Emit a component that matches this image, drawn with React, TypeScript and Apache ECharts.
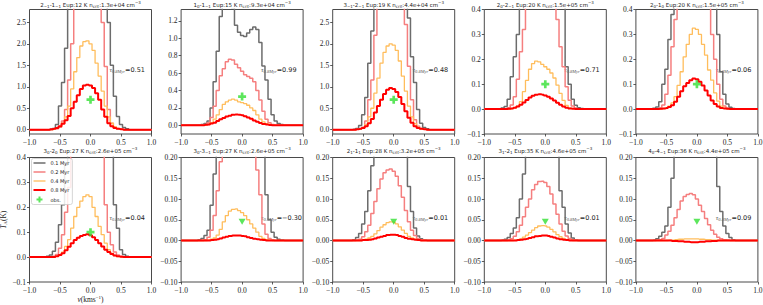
import React, { useEffect, useRef } from "react";
import * as echarts from "echarts";

// channel centres (km/s); outside this window all spectra are zero
const velocity = [-0.75, -0.7, -0.65, -0.6, -0.55, -0.5, -0.45, -0.4, -0.35, -0.3, -0.25, -0.2, -0.15, -0.1, -0.05, 0, 0.05, 0.1, 0.15, 0.2, 0.25, 0.3, 0.35, 0.4, 0.45, 0.5, 0.55, 0.6, 0.65, 0.7, 0.75];
const bandEdges = [-1.0, 1.0];
const ageNames = ["0.1 Myr", "0.2 Myr", "0.4 Myr", "0.8 Myr"];
const xTicks = [-1.0, -0.5, 0.0, 0.5, 1.0];

// Panel 1: 2_-1 - 1_-1
const p1_01 = [0, 0, 0.01, 0.03, 0.12, 0.55, 1.1, 1.9, 3.2, 3.8, 4.2, 4.4, 4.5, 4.5, 4.5, 4.4, 4.3, 4.2, 4.0, 3.7, 3.2, 2.5, 1.5, 0.78, 0.31, 0.12, 0.05, 0.02, 0, 0, 0];
const p1_02 = [0, 0, 0, 0.01, 0.02, 0.06, 0.2, 0.47, 1.16, 2.0, 3.0, 3.6, 3.9, 4.0, 4.0, 3.9, 3.7, 3.4, 3.0, 2.5, 1.47, 0.47, 0.15, 0.05, 0.02, 0.01, 0, 0, 0, 0, 0];
const p1_04 = [0, 0, 0, 0.01, 0.03, 0.07, 0.15, 0.3, 0.55, 0.95, 1.35, 1.68, 1.95, 2.05, 2.07, 2.0, 1.85, 1.55, 1.25, 0.9, 0.55, 0.3, 0.15, 0.07, 0.03, 0.01, 0, 0, 0, 0, 0];
const p1_08 = [0, 0, 0.01, 0.02, 0.04, 0.08, 0.14, 0.22, 0.32, 0.5, 0.65, 0.8, 0.95, 1.03, 1.05, 1.03, 0.97, 0.85, 0.7, 0.47, 0.3, 0.15, 0.08, 0.04, 0.02, 0.01, 0, 0, 0, 0, 0];
// Panel 2: 1_0 - 1_-1
const p2_01 = [0, 0, 0.01, 0.02, 0.05, 0.2, 0.5, 0.85, 1.25, 1.45, 1.5, 1.45, 1.35, 1.15, 1.07, 1.03, 1.02, 1.06, 1.1, 1.13, 1.1, 0.95, 0.68, 0.52, 0.3, 0.12, 0.05, 0.02, 0.01, 0, 0];
const p2_02 = [0, 0, 0, 0.01, 0.03, 0.09, 0.22, 0.4, 0.57, 0.65, 0.73, 0.76, 0.75, 0.7, 0.66, 0.62, 0.58, 0.56, 0.54, 0.5, 0.4, 0.29, 0.16, 0.07, 0.03, 0.01, 0, 0, 0, 0, 0];
const p2_04 = [0, 0, 0, 0.005, 0.01, 0.03, 0.07, 0.12, 0.18, 0.24, 0.27, 0.29, 0.3, 0.29, 0.27, 0.26, 0.25, 0.23, 0.2, 0.17, 0.12, 0.07, 0.04, 0.02, 0.01, 0, 0, 0, 0, 0, 0];
const p2_08 = [0, 0, 0, 0.005, 0.01, 0.02, 0.03, 0.05, 0.07, 0.085, 0.1, 0.11, 0.12, 0.125, 0.12, 0.115, 0.105, 0.09, 0.075, 0.055, 0.04, 0.025, 0.015, 0.008, 0.003, 0, 0, 0, 0, 0, 0];
// Panel 3: 3_-1 - 2_-1
const p3_01 = [0, 0, 0.01, 0.03, 0.1, 0.35, 0.75, 1.55, 2.3, 3.2, 4.0, 4.3, 4.4, 4.4, 4.4, 4.3, 4.2, 4.0, 3.8, 3.5, 2.6, 1.7, 1.1, 0.47, 0.15, 0.05, 0.02, 0, 0, 0, 0];
const p3_02 = [0, 0, 0, 0.01, 0.02, 0.06, 0.2, 0.7, 1.16, 2.2, 3.2, 3.6, 3.8, 3.9, 3.9, 3.8, 3.6, 3.4, 3.2, 2.45, 1.48, 0.7, 0.23, 0.08, 0.03, 0.01, 0, 0, 0, 0, 0];
const p3_04 = [0, 0, 0, 0.01, 0.02, 0.05, 0.12, 0.3, 0.5, 0.85, 1.2, 1.55, 1.8, 1.95, 2.0, 1.97, 1.85, 1.6, 1.25, 0.9, 0.55, 0.3, 0.14, 0.06, 0.02, 0.01, 0, 0, 0, 0, 0];
const p3_08 = [0, 0, 0, 0.01, 0.02, 0.04, 0.08, 0.15, 0.25, 0.4, 0.55, 0.7, 0.83, 0.93, 0.97, 0.95, 0.88, 0.76, 0.6, 0.43, 0.28, 0.16, 0.08, 0.04, 0.02, 0.01, 0, 0, 0, 0, 0];
// Panel 4: 2_0 - 2_-1
const p4_01 = [0.001, 0.004, 0.01, 0.04, 0.13, 0.21, 0.3, 0.45, 0.6, 0.7, 0.75, 0.8, 0.8, 0.8, 0.8, 0.8, 0.78, 0.75, 0.7, 0.6, 0.5, 0.45, 0.17, 0.1, 0.04, 0.015, 0.005, 0.002, 0, 0, 0];
const p4_02 = [0, 0, 0, 0.005, 0.016, 0.05, 0.12, 0.23, 0.32, 0.45, 0.55, 0.6, 0.62, 0.62, 0.62, 0.6, 0.58, 0.55, 0.45, 0.36, 0.25, 0.17, 0.09, 0.036, 0.012, 0.004, 0, 0, 0, 0, 0];
const p4_04 = [0, 0, 0, 0, 0.002, 0.005, 0.012, 0.03, 0.07, 0.115, 0.16, 0.183, 0.193, 0.19, 0.18, 0.17, 0.16, 0.145, 0.125, 0.096, 0.063, 0.035, 0.015, 0.005, 0.002, 0, 0, 0, 0, 0, 0];
const p4_08 = [0, 0, 0, 0.001, 0.002, 0.005, 0.01, 0.017, 0.027, 0.037, 0.047, 0.054, 0.058, 0.06, 0.058, 0.055, 0.05, 0.043, 0.035, 0.026, 0.017, 0.01, 0.005, 0.002, 0.001, 0, 0, 0, 0, 0, 0];
// Panel 5: 2_0 - 1_0
const p5_01 = [0, 0.003, 0.008, 0.03, 0.1, 0.16, 0.28, 0.38, 0.5, 0.6, 0.7, 0.75, 0.8, 0.8, 0.8, 0.8, 0.78, 0.75, 0.7, 0.6, 0.55, 0.5, 0.3, 0.15, 0.06, 0.02, 0.007, 0.002, 0, 0, 0];
const p5_02 = [0, 0, 0, 0.004, 0.016, 0.06, 0.136, 0.25, 0.36, 0.48, 0.55, 0.6, 0.62, 0.62, 0.62, 0.6, 0.58, 0.55, 0.5, 0.42, 0.3, 0.2, 0.1, 0.04, 0.012, 0.004, 0, 0, 0, 0, 0];
const p5_04 = [0, 0, 0, 0, 0.002, 0.005, 0.012, 0.025, 0.05, 0.095, 0.15, 0.21, 0.26, 0.3, 0.325, 0.32, 0.3, 0.26, 0.217, 0.157, 0.116, 0.065, 0.032, 0.012, 0.004, 0.001, 0, 0, 0, 0, 0];
const p5_08 = [0, 0, 0, 0.001, 0.002, 0.004, 0.008, 0.015, 0.03, 0.05, 0.072, 0.092, 0.105, 0.116, 0.123, 0.12, 0.11, 0.095, 0.075, 0.055, 0.035, 0.02, 0.01, 0.004, 0.002, 0.001, 0, 0, 0, 0, 0];
// Panel 6: 3_0 - 2_0
const p6_01 = [0, 0.003, 0.008, 0.023, 0.06, 0.13, 0.21, 0.37, 0.5, 0.6, 0.7, 0.75, 0.8, 0.8, 0.8, 0.8, 0.78, 0.75, 0.7, 0.6, 0.55, 0.5, 0.42, 0.21, 0.116, 0.03, 0.01, 0.003, 0, 0, 0];
const p6_02 = [0, 0, 0, 0.003, 0.01, 0.036, 0.09, 0.18, 0.28, 0.42, 0.5, 0.55, 0.6, 0.6, 0.6, 0.58, 0.55, 0.5, 0.47, 0.45, 0.21, 0.1, 0.05, 0.02, 0.008, 0.003, 0, 0, 0, 0, 0];
const p6_04 = [0, 0, 0, 0, 0.003, 0.008, 0.02, 0.043, 0.07, 0.116, 0.163, 0.2, 0.225, 0.243, 0.25, 0.243, 0.2, 0.163, 0.123, 0.09, 0.056, 0.03, 0.015, 0.006, 0.002, 0, 0, 0, 0, 0, 0];
const p6_08 = [0, 0, 0, 0, 0.003, 0.008, 0.015, 0.028, 0.042, 0.056, 0.069, 0.078, 0.085, 0.089, 0.092, 0.088, 0.08, 0.069, 0.056, 0.043, 0.03, 0.02, 0.012, 0.006, 0.003, 0.001, 0, 0, 0, 0, 0];
// Panel 7: 3_0 - 3_-1
const p7_01 = [0, 0.002, 0.005, 0.012, 0.025, 0.085, 0.16, 0.25, 0.3, 0.35, 0.38, 0.4, 0.4, 0.4, 0.4, 0.4, 0.4, 0.38, 0.35, 0.32, 0.3, 0.27, 0.25, 0.11, 0.05, 0.02, 0.008, 0.003, 0.001, 0, 0];
const p7_02 = [0, 0, 0, 0.002, 0.008, 0.025, 0.06, 0.12, 0.19, 0.25, 0.3, 0.32, 0.33, 0.33, 0.33, 0.32, 0.3, 0.28, 0.26, 0.24, 0.17, 0.11, 0.04, 0.015, 0.005, 0.002, 0, 0, 0, 0, 0];
const p7_04 = [0, 0, 0, 0, 0.001, 0.003, 0.006, 0.013, 0.027, 0.045, 0.06, 0.071, 0.075, 0.076, 0.072, 0.067, 0.06, 0.05, 0.04, 0.03, 0.02, 0.01, 0.005, 0.002, 0.001, 0, 0, 0, 0, 0, 0];
const p7_08 = [0, 0, 0, 0, 0, 0.001, 0.002, 0.003, 0.005, 0.007, 0.009, 0.011, 0.012, 0.012, 0.012, 0.011, 0.01, 0.008, 0.006, 0.004, 0.003, 0.002, 0.001, 0, 0, 0, 0, 0, 0, 0, 0];
// Panel 8: 2_1 - 1_1
const p8_01 = [0, 0, 0.002, 0.007, 0.017, 0.04, 0.07, 0.12, 0.18, 0.24, 0.3, 0.33, 0.35, 0.35, 0.35, 0.34, 0.32, 0.3, 0.27, 0.22, 0.13, 0.07, 0.03, 0.011, 0.004, 0.001, 0, 0, 0, 0, 0];
const p8_02 = [0, 0, 0, 0.001, 0.003, 0.009, 0.021, 0.037, 0.065, 0.094, 0.125, 0.148, 0.163, 0.17, 0.172, 0.167, 0.155, 0.132, 0.104, 0.072, 0.045, 0.025, 0.012, 0.005, 0.002, 0.001, 0, 0, 0, 0, 0];
const p8_04 = [0, 0, 0, 0, 0, 0.001, 0.003, 0.006, 0.01, 0.016, 0.024, 0.032, 0.038, 0.043, 0.045, 0.044, 0.04, 0.033, 0.025, 0.017, 0.01, 0.006, 0.003, 0.001, 0, 0, 0, 0, 0, 0, 0];
const p8_08 = [0, 0, 0, 0, 0, 0.001, 0.001, 0.002, 0.003, 0.005, 0.007, 0.009, 0.011, 0.013, 0.014, 0.014, 0.013, 0.011, 0.009, 0.006, 0.004, 0.003, 0.002, 0.001, 0, 0, 0, 0, 0, 0, 0];
// Panel 9: 3_1 - 2_1
const p9_01 = [0, 0.001, 0.003, 0.007, 0.017, 0.03, 0.055, 0.1, 0.16, 0.22, 0.27, 0.3, 0.32, 0.32, 0.32, 0.31, 0.3, 0.28, 0.25, 0.22, 0.12, 0.08, 0.04, 0.018, 0.006, 0.002, 0, 0, 0, 0, 0];
const p9_02 = [0, 0, 0, 0.001, 0.004, 0.01, 0.021, 0.037, 0.057, 0.08, 0.1, 0.122, 0.135, 0.142, 0.143, 0.14, 0.13, 0.112, 0.088, 0.063, 0.04, 0.022, 0.011, 0.005, 0.002, 0.001, 0, 0, 0, 0, 0];
const p9_04 = [0, 0, 0, 0, 0, 0.001, 0.002, 0.004, 0.008, 0.013, 0.019, 0.025, 0.031, 0.035, 0.036, 0.035, 0.032, 0.027, 0.021, 0.014, 0.009, 0.005, 0.002, 0.001, 0, 0, 0, 0, 0, 0, 0];
const p9_08 = [0, 0, 0, 0, 0, 0, 0.001, 0.002, 0.003, 0.004, 0.006, 0.008, 0.01, 0.011, 0.012, 0.012, 0.011, 0.009, 0.007, 0.005, 0.003, 0.002, 0.001, 0, 0, 0, 0, 0, 0, 0, 0];
// Panel 10: 4_0 - 4_-1
const p10_01 = [0, 0.001, 0.004, 0.01, 0.02, 0.035, 0.08, 0.15, 0.22, 0.27, 0.3, 0.32, 0.33, 0.33, 0.33, 0.32, 0.31, 0.3, 0.28, 0.26, 0.24, 0.22, 0.13, 0.07, 0.035, 0.017, 0.007, 0.002, 0, 0, 0];
const p10_02 = [0, 0, 0.001, 0.002, 0.005, 0.013, 0.022, 0.037, 0.055, 0.075, 0.095, 0.106, 0.111, 0.113, 0.11, 0.1, 0.085, 0.07, 0.053, 0.038, 0.025, 0.015, 0.008, 0.004, 0.002, 0.001, 0, 0, 0, 0, 0];
const p10_04 = [0, 0, 0, 0, 0, 0, 0.001, 0.001, 0.002, 0.003, 0.003, 0.004, 0.004, 0.004, 0.004, 0.004, 0.003, 0.003, 0.002, 0.002, 0.001, 0.001, 0, 0, 0, 0, 0, 0, 0, 0, 0];
const p10_08 = [0, 0, 0, 0, 0, 0, 0, -0.001, -0.001, -0.002, -0.002, -0.003, -0.003, -0.004, -0.004, -0.004, -0.003, -0.003, -0.002, -0.002, -0.001, -0.001, 0, 0, 0, 0, 0, 0, 0, 0, 0];

const panelSpectra = [
  [p1_01, p1_02, p1_04, p1_08],
  [p2_01, p2_02, p2_04, p2_08],
  [p3_01, p3_02, p3_04, p3_08],
  [p4_01, p4_02, p4_04, p4_08],
  [p5_01, p5_02, p5_04, p5_08],
  [p6_01, p6_02, p6_04, p6_08],
  [p7_01, p7_02, p7_04, p7_08],
  [p8_01, p8_02, p8_04, p8_08],
  [p9_01, p9_02, p9_04, p9_08],
  [p10_01, p10_02, p10_04, p10_08],
];

const titles = [
  "2{s|−1}-1{s|−1} Eup:12 K n{s|crit}:1.3e+04 cm{p|−3}",
  "1{s|0}-1{s|−1} Eup:15 K n{s|crit}:9.3e+04 cm{p|−3}",
  "3{s|−1}-2{s|−1} Eup:19 K n{s|crit}:4.4e+04 cm{p|−3}",
  "2{s|0}-2{s|−1} Eup:20 K n{s|crit}:1.5e+05 cm{p|−3}",
  "2{s|0}-1{s|0} Eup:20 K n{s|crit}:1.5e+05 cm{p|−3}",
  "3{s|0}-2{s|0} Eup:27 K n{s|crit}:2.6e+05 cm{p|−3}",
  "3{s|0}-3{s|−1} Eup:27 K n{s|crit}:2.6e+05 cm{p|−3}",
  "2{s|1}-1{s|1} Eup:28 K n{s|crit}:3.2e+05 cm{p|−3}",
  "3{s|1}-2{s|1} Eup:35 K n{s|crit}:4.6e+05 cm{p|−3}",
  "4{s|0}-4{s|−1} Eup:36 K n{s|crit}:4.4e+05 cm{p|−3}",
];
const tauValues = ["0.51", "0.99", "0.48", "0.71", "0.06", "0.04", "−0.30", "0.01", "0.01", "0.09"];
const obsVelocity = [0, 0, 0, 0, 0, 0, 0, 0, 0, 0];
const obsIntensity = [0.7, 0.33, 0.7, 0.1, 0.1, 0.1, 0.045, 0.045, 0.045, 0.045];
const obsIsUpperLimit = [false, false, false, false, false, false, true, true, true, true];

const yMin = [-0.1, -0.1, -0.1, -0.1, -0.1, -0.1, -0.1, -0.1, -0.1, -0.1];
const yMax = [2.8, 1.33, 2.8, 0.4, 0.4, 0.4, 0.2, 0.2, 0.2, 0.2];
const ticksA = [0.0, 0.5, 1.0, 1.5, 2.0, 2.5];
const ticksB = [0.0, 0.2, 0.4, 0.6, 0.8, 1.0, 1.2];
const ticksC = [-0.1, 0.0, 0.1, 0.2, 0.3, 0.4];
const ticksD = [-0.1, -0.05, 0.0, 0.05, 0.1, 0.15, 0.2];
const yTicks = [ticksA, ticksB, ticksA, ticksC, ticksC, ticksC, ticksD, ticksD, ticksD, ticksD];
const yDecimals = [1, 1, 1, 1, 1, 1, 2, 2, 2, 2];

// ---- styling / layout (not data) ----
const LINE_STYLES = [
  { color: "#6c6c6c", width: 1.5 },
  { color: "#f57f7f", width: 1.5 },
  { color: "#ffbd5c", width: 1.3 },
  { color: "#ff0000", width: 2 },
];
const LEGEND_ICONS = [
  "path://M0,0L12,0L12,1.5L0,1.5Z",
  "path://M0,0L12,0L12,1.5L0,1.5Z",
  "path://M0,0L12,0L12,1.3L0,1.3Z",
  "path://M0,0L12,0L12,2L0,2Z",
];
const GREEN = "#33e033";
const PLUS = "path://M-1,-3L1,-3L1,-1L3,-1L3,1L1,1L1,3L-1,3L-1,1L-3,1L-3,-1L-1,-1Z";
const GL = 29.5;
const GSTEP = 151.6;
const GW = 122;
const GH = 124.5;
const TOPS = [9.5, 157.5];
const SERIF = "Liberation Serif";
const SANS = "DejaVu Sans";

function fmt(v: number, d: number) {
  const s = Math.abs(v).toFixed(d);
  return (v < -1e-9 ? "−" : "") + s;
}

function buildOption() {
  const grid: any[] = [];
  const xAxis: any[] = [];
  const yAxis: any[] = [];
  const series: any[] = [];
  const graphic: any[] = [];

  for (let p = 0; p < 10; p++) {
    const row = Math.floor(p / 5);
    const col = p % 5;
    const left = GL + col * GSTEP;
    const top = TOPS[row];
    grid.push({
      left, top, width: GW, height: GH, show: true,
      borderColor: "#4a4a4a", borderWidth: 1, backgroundColor: "transparent",
      containLabel: false, outerBoundsMode: "none",
    });
    const isLabelPanel = p === 5;
    xAxis.push({
      gridIndex: p, type: "value", min: bandEdges[0], max: bandEdges[1],
      axisLine: { show: false, onZero: false },
      axisTick: { show: true, inside: false, length: 2.5, customValues: xTicks, lineStyle: { color: "#333", width: 0.8 } },
      axisLabel: { show: true, customValues: xTicks, formatter: (v: number) => fmt(v, 1), fontFamily: SERIF, fontSize: 7.5, color: "#222", margin: 4 },
      splitLine: { show: false },
      name: isLabelPanel ? "{i|v}(kms{p|−1})" : "",
      nameLocation: "middle", nameGap: 13,
      nameTextStyle: {
        fontFamily: SERIF, fontSize: 7.5, color: "#222", lineHeight: 9,
        rich: {
          i: { fontFamily: SERIF, fontStyle: "italic", fontSize: 7.5, lineHeight: 9, color: "#222" },
          p: { fontFamily: SERIF, fontSize: 5, lineHeight: 5, verticalAlign: "top", color: "#222" },
        },
      },
    });
    const dec = yDecimals[p];
    yAxis.push({
      gridIndex: p, type: "value", min: yMin[p], max: yMax[p],
      axisLine: { show: false, onZero: false },
      axisTick: { show: true, inside: false, length: 2.5, customValues: yTicks[p], lineStyle: { color: "#333", width: 0.8 } },
      axisLabel: { show: true, customValues: yTicks[p], formatter: (v: number) => fmt(v, dec), fontFamily: SERIF, fontSize: 7.5, color: "#222", margin: 3.5 },
      splitLine: { show: false },
      name: isLabelPanel ? "{i|T}{s|A}(K)" : "",
      nameLocation: "middle", nameGap: 20, nameRotate: 90,
      nameTextStyle: {
        fontFamily: SERIF, fontSize: 7.5, color: "#222", lineHeight: 9,
        rich: {
          i: { fontFamily: SERIF, fontStyle: "italic", fontSize: 7.5, lineHeight: 9, color: "#222" },
          s: { fontFamily: SERIF, fontSize: 5, lineHeight: 5, verticalAlign: "bottom", color: "#222" },
        },
      },
    });

    panelSpectra[p].forEach((vals, k) => {
      const data = [[bandEdges[0], 0], ...velocity.map((v, i) => [v, vals[i]]), [bandEdges[1], 0]];
      series.push({
        type: "line", name: ageNames[k], xAxisIndex: p, yAxisIndex: p,
        step: "middle", symbol: "none", showSymbol: false, clip: true,
        data,
        lineStyle: { color: LINE_STYLES[k].color, width: LINE_STYLES[k].width },
        itemStyle: { color: LINE_STYLES[k].color },
        z: 2 + k * 0.1,
      });
    });

    series.push({
      type: "scatter", name: "obs.", xAxisIndex: p, yAxisIndex: p,
      data: [[obsVelocity[p], obsIntensity[p]]],
      symbol: obsIsUpperLimit[p] ? "triangle" : PLUS,
      symbolRotate: obsIsUpperLimit[p] ? 180 : 0,
      symbolSize: obsIsUpperLimit[p] ? [7, 6] : 8,
      itemStyle: { color: GREEN },
      z: 4,
    });

    graphic.push({
      type: "text", silent: true,
      x: left + GW / 2, y: row === 0 ? 4.5 : 150.5,
      style: {
        text: titles[p], align: "center", verticalAlign: "middle",
        fontFamily: SANS, fontSize: 5.5, lineHeight: 8, fill: "#222",
        rich: {
          s: { fontFamily: SANS, fontSize: 4, lineHeight: 4.5, verticalAlign: "bottom", fill: "#222" },
          p: { fontFamily: SANS, fontSize: 4, lineHeight: 4.5, verticalAlign: "top", fill: "#222" },
        },
      },
    });
    graphic.push({
      type: "text", silent: true,
      x: left + 0.655 * GW, y: top + 0.482 * GH,
      style: {
        text: "{t|τ}{ts|0.8Myr}{n|=" + tauValues[p] + "}",
        align: "left", verticalAlign: "middle",
        fontFamily: SANS, fontSize: 6.5, lineHeight: 9, fill: "#222",
        rich: {
          t: { fontFamily: SERIF, fontStyle: "italic", fontSize: 7, lineHeight: 9, fill: "#555" },
          ts: { fontFamily: SERIF, fontStyle: "italic", fontSize: 4.5, lineHeight: 5, verticalAlign: "bottom", fill: "#555" },
          n: { fontFamily: SANS, fontSize: 6.5, lineHeight: 9, fill: "#222" },
        },
      },
    });
  }

  return {
    animation: false,
    backgroundColor: "#ffffff",
    textStyle: { fontFamily: SANS },
    grid, xAxis, yAxis, series, graphic,
    legend: {
      data: [...ageNames.map((n, k) => ({ name: n, icon: LEGEND_ICONS[k] })), { name: "obs.", icon: PLUS }],
      orient: "vertical", left: 31.5, top: 158.5,
      itemWidth: 12, itemHeight: 6, itemGap: 4,
      symbolKeepAspect: true,
      padding: [2, 3, 2, 2],
      backgroundColor: "rgba(255,255,255,0.85)", borderColor: "#cccccc", borderWidth: 0.8, borderRadius: 2,
      textStyle: { fontSize: 5, fontFamily: SANS, color: "#222" },
      selectedMode: false,
      z: 10,
    },
  };
}

export default function App() {
  const ref = useRef<HTMLDivElement>(null);
  useEffect(() => {
    document.body.style.margin = "0";
    const chart = echarts.init(ref.current!, null, { renderer: "svg" });
    chart.setOption(buildOption() as any);
    return () => chart.dispose();
  }, []);
  return <div ref={ref} style={{ width: 763, height: 305, position: "absolute", left: 0, top: 0 }} />;
}
